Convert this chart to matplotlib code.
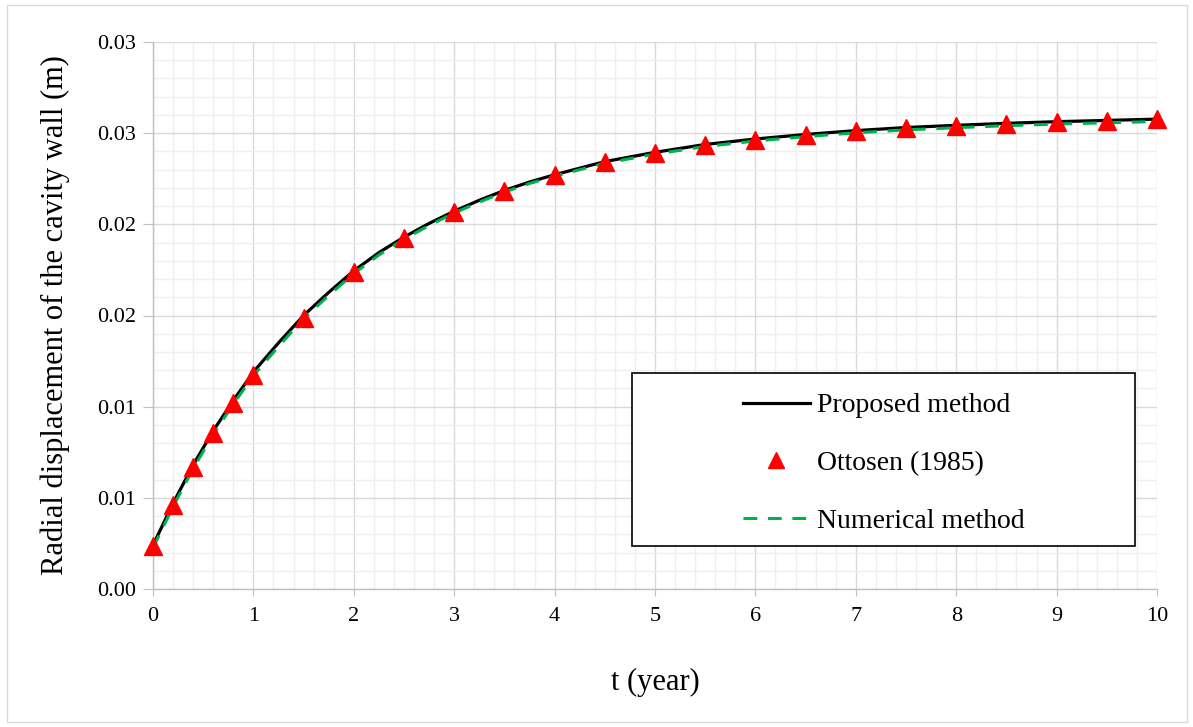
import matplotlib
matplotlib.use("Agg")
import matplotlib.pyplot as plt
from matplotlib.patches import Rectangle
from matplotlib.ticker import MultipleLocator

plt.rcParams['font.family'] = ['Liberation Serif', 'DejaVu Serif']

# Ottosen (1985) points
t_ott = [0, 0.2, 0.4, 0.6, 0.8, 1.0, 1.5, 2.0, 2.5, 3.0, 3.5, 4.0, 4.5, 5.0,
         5.5, 6.0, 6.5, 7.0, 7.5, 8.0, 8.5, 9.0, 9.5, 10.0]
u_ott = [0.00236, 0.00462, 0.00670, 0.00857, 0.01022, 0.01176, 0.01489, 0.01736,
         0.01923, 0.02066, 0.02181, 0.02269, 0.02341, 0.02390, 0.02434, 0.02462,
         0.02489, 0.02511, 0.02527, 0.02538, 0.02549, 0.02560, 0.02566, 0.02577]

# Proposed method (solid line)
t_prop = [0, 0.2, 0.4, 0.6, 0.8, 1.0, 1.25, 1.5, 1.75, 2.0, 2.25, 2.5, 2.75, 3.0,
          3.25, 3.5, 3.75, 4.0, 4.5, 5.0, 5.5, 6.0, 6.5, 7.0, 7.5, 8.0, 8.5,
          9.0, 9.5, 10.0]
u_prop = [0.00240, 0.00470, 0.00680, 0.00868, 0.01034, 0.01190, 0.01350, 0.01500,
          0.01627, 0.01745, 0.01845, 0.01930, 0.02005, 0.02072, 0.02132, 0.02186,
          0.02232, 0.02272, 0.02344, 0.02395, 0.02438, 0.02468, 0.02493, 0.02514,
          0.02531, 0.02543, 0.02554, 0.02563, 0.02570, 0.02577]

# Numerical method (dashed line)
t_num = t_prop
u_num = [0.00225, 0.00452, 0.00660, 0.00848, 0.01014, 0.01170, 0.01330, 0.01482,
         0.01610, 0.01730, 0.01832, 0.01918, 0.01994, 0.02062, 0.02122, 0.02177,
         0.02224, 0.02264, 0.02335, 0.02385, 0.02427, 0.02457, 0.02481, 0.02502,
         0.02518, 0.02530, 0.02541, 0.02550, 0.02557, 0.02564]

y_ticks = [0.0, 0.005, 0.010, 0.015, 0.020, 0.025, 0.030]
y_labels = ['0.00', '0.01', '0.01', '0.02', '0.02', '0.03', '0.03']
x_ticks = list(range(0, 11))

fig = plt.figure(figsize=(11.93, 7.27), dpi=100)
ax = fig.add_axes([153/1193, 1-589/727, (1157-153)/1193, (589-42)/727])

ax.set_xlim(0, 10)
ax.set_ylim(0, 0.03)
ax.set_xticks(x_ticks)
ax.set_yticks(y_ticks)
ax.set_yticklabels(y_labels)
ax.xaxis.set_minor_locator(MultipleLocator(0.2))
ax.yaxis.set_minor_locator(MultipleLocator(0.001))
ax.grid(which='major', color='#d9d9d9', linewidth=1.0, zorder=0)
ax.grid(which='minor', color='#efefef', linewidth=1.0, zorder=0)
ax.set_axisbelow(True)
ax.tick_params(which='major', direction='out', length=5, color='#bfbfbf',
               labelsize=16, pad=8)
ax.tick_params(axis='y', which='major', length=7, pad=5)
ax.tick_params(which='minor', length=0)
for s in ['top', 'right']:
    ax.spines[s].set_visible(False)
for s in ['left', 'bottom']:
    ax.spines[s].set_color('#bfbfbf')
    ax.spines[s].set_linewidth(1.0)

l_num, = ax.plot(t_num, u_num, color='#00b050', linewidth=2.2,
                 dashes=(4.5, 3.5), zorder=3, label='Numerical method')
l_prop, = ax.plot(t_prop, u_prop, color='black', linewidth=2.3, zorder=2,
                  label='Proposed method')
l_ott, = ax.plot(t_ott, u_ott, linestyle='none', marker='^', markersize=13,
                 color='red', markeredgecolor='red', zorder=4, clip_on=False,
                 label='Ottosen (1985)')

ax.set_xlabel('t (year)', fontsize=22, labelpad=30)
ax.set_ylabel('Radial displacement of the cavity wall (m)', fontsize=22, labelpad=20)

# legend frame
rect = Rectangle(((632-153)/1004, (589-546)/547), (1135-632)/1004, (546-373)/547,
                 transform=ax.transAxes, facecolor='white', edgecolor='black',
                 linewidth=1.2, zorder=5)
ax.add_patch(rect)
leg = ax.legend([l_prop, l_ott, l_num],
                ['Proposed method', 'Ottosen (1985)', 'Numerical method'],
                loc='center', bbox_to_anchor=(0.7276, 0.2297), frameon=False,
                fontsize=20, handlelength=2.4, handletextpad=0.25,
                labelspacing=1.16, markerscale=0.85)
leg.set_zorder(6)

fig.patches.append(Rectangle((7/1193, 1-722/727), (1187-7)/1193, (722-5)/727,
                             transform=fig.transFigure, facecolor='none',
                             edgecolor='#d9d9d9', linewidth=1.0))

fig.savefig('out.png', dpi=100)
